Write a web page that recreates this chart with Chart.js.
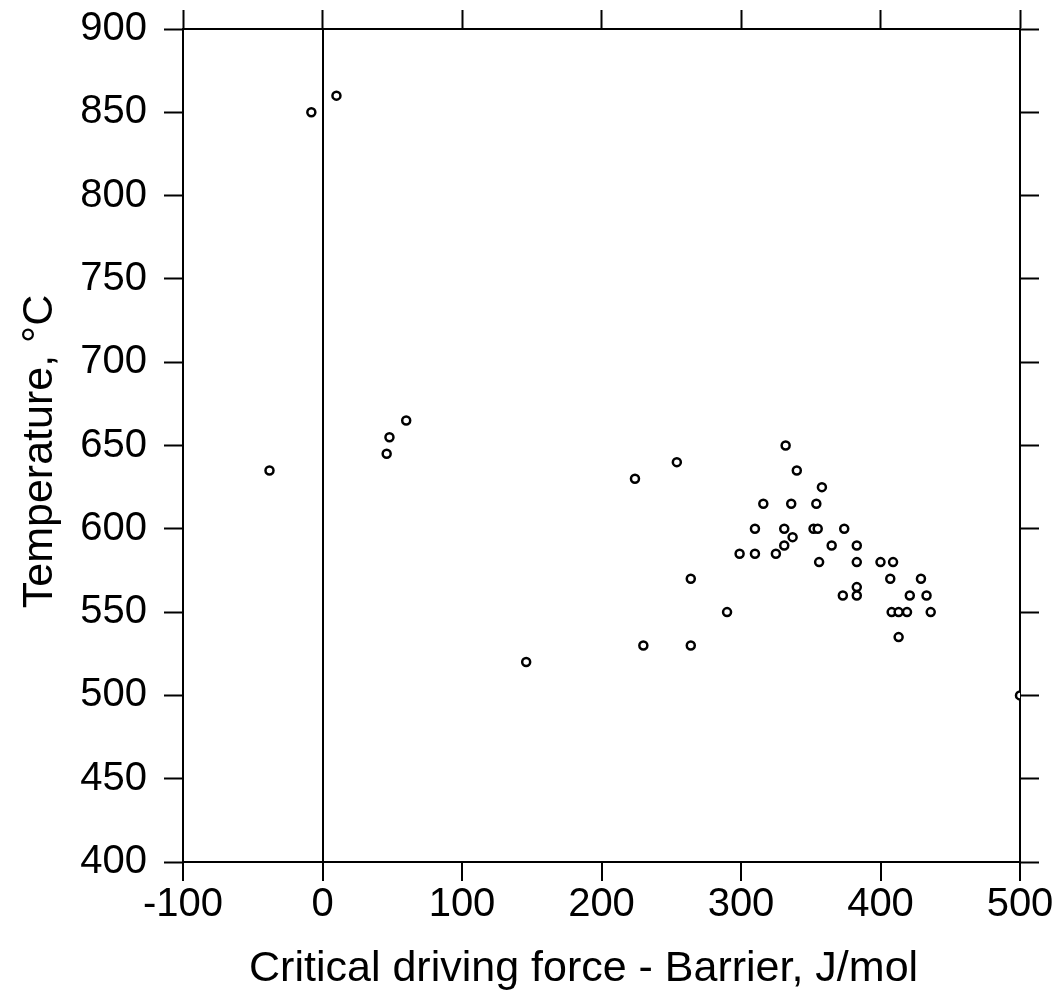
<!DOCTYPE html>
<html>
<head>
<meta charset="utf-8">
<script src="https://cdn.jsdelivr.net/npm/chart.js@4/dist/chart.umd.min.js"></script>
<style>
  html, body { margin: 0; padding: 0; background: #fff; }
  #wrap { width: 1056px; height: 993px; }
</style>
</head>
<body>
<div id="wrap"><canvas id="myChart" width="1056" height="993"></canvas></div>
<script>
// critical driving force - barrier (J/mol)
const drivingForce = [
  -8, 10, -38, 46, 48, 60, 146, 224, 254, 230,
  264, 264, 290, 299, 310, 310, 316, 325, 332, 331,
  331, 336, 337, 340, 354, 358, 352, 355, 356, 365,
  374, 373, 383, 383, 383, 383, 400, 409, 407, 429,
  421, 433, 408, 413, 419, 436, 413, 500
];
// temperature (C)
const temperature = [
  850, 860, 635, 645, 655, 665, 520, 630, 640, 530,
  570, 530, 550, 585, 600, 585, 615, 585, 650, 600,
  590, 615, 595, 635, 615, 625, 600, 600, 580, 590,
  600, 560, 590, 580, 565, 560, 580, 580, 570, 570,
  560, 560, 550, 550, 550, 550, 535, 500
];
const xTicks = [-100, 0, 100, 200, 300, 400, 500];
const yTicks = [400, 450, 500, 550, 600, 650, 700, 750, 800, 850, 900];

const points = drivingForce.map((x, i) => ({ x: x, y: temperature[i] }));

const FONT = "'Liberation Sans', Arial, Helvetica, sans-serif";

// force the box size and drop the label overhang padding
const fixSize = (prop, size) => (scale) => {
  scale[prop] = size;
  scale.paddingTop = 0;
  scale.paddingBottom = 0;
  scale.paddingLeft = 0;
  scale.paddingRight = 0;
};

const edgeAxis = (pos, min, max, list) => ({
  type: 'linear',
  position: pos,
  min: min,
  max: max,
  afterBuildTicks: (scale) => { scale.ticks = list.map(v => ({ value: v })); },
  ticks: { display: false },
  grid: { color: 'transparent', tickColor: '#000', tickWidth: 2, tickLength: 19, drawOnChartArea: false },
  border: { display: true, color: '#000', width: 2 }
});

const ctx = document.getElementById('myChart').getContext('2d');
const myChart = new Chart(ctx, {
  type: 'scatter',
  data: {
    datasets: [{
      label: 'data',
      data: points,
      pointRadius: 4,
      pointHoverRadius: 4,
      pointBorderWidth: 2.5,
      pointBorderColor: '#000',
      pointBackgroundColor: '#fff',
      clip: 0
    }]
  },
  options: {
    responsive: false,
    maintainAspectRatio: false,
    animation: false,
    layout: { padding: { top: 9, right: 17, bottom: 0, left: 0 } },
    plugins: { legend: { display: false }, tooltip: { enabled: false } },
    scales: {
      x: {
        type: 'linear',
        position: 'bottom',
        min: -100,
        max: 500,
        afterBuildTicks: (scale) => { scale.ticks = xTicks.map(v => ({ value: v })); },
        afterFit: fixSize('height', 131),
        ticks: { color: '#000', padding: 0, maxRotation: 0, font: { family: FONT, size: 40 } },
        grid: {
          color: (c) => (c.tick && c.tick.value === 0 ? '#000' : 'transparent'),
          lineWidth: 2,
          tickColor: '#000',
          tickWidth: 2,
          tickLength: 19
        },
        border: { display: true, color: '#000', width: 2 },
        title: {
          display: true,
          text: 'Critical driving force - Barrier, J/mol   ',
          color: '#000',
          font: { family: FONT, size: 43, lineHeight: 1 },
          padding: { top: 0, bottom: 2 }
        }
      },
      y: {
        type: 'linear',
        position: 'left',
        min: 400,
        max: 900,
        afterBuildTicks: (scale) => { scale.ticks = yTicks.map(v => ({ value: v })); },
        afterFit: fixSize('width', 183),
        ticks: { color: '#000', padding: 17, font: { family: FONT, size: 40 } },
        grid: { color: 'transparent', tickColor: '#000', tickWidth: 2, tickLength: 19 },
        border: { display: true, color: '#000', width: 2 },
        title: {
          display: true,
          text: 'Temperature, \u00B0C ',
          color: '#000',
          font: { family: FONT, size: 43, lineHeight: 1 },
          padding: { top: 19, bottom: 0 }
        }
      },
      x2: Object.assign(edgeAxis('top', -100, 500, xTicks), { afterFit: fixSize('height', 20) }),
      y2: Object.assign(edgeAxis('right', 400, 900, yTicks), { afterFit: fixSize('width', 19) })
    }
  }
});
</script>
</body>
</html>
